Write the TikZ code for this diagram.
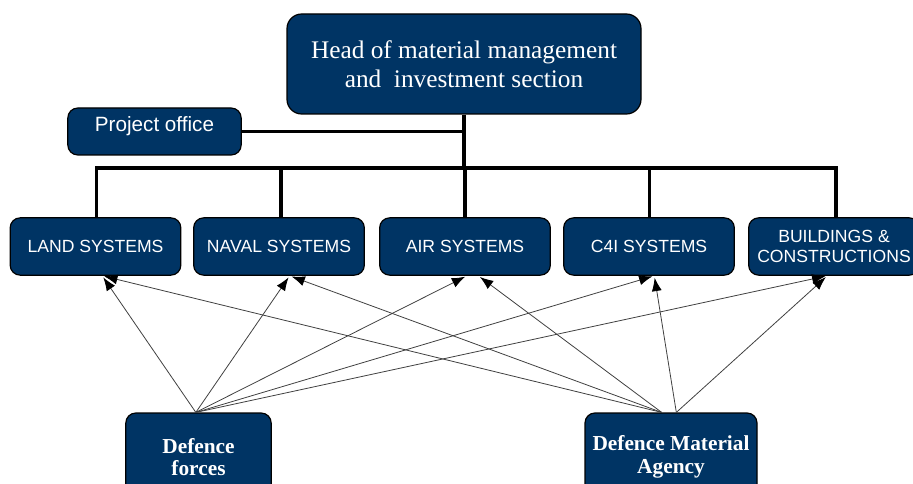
\documentclass[tikz,border=0pt]{standalone}
\usepackage{fontspec}
\setmainfont{Liberation Serif}
\setsansfont{Liberation Sans}
\usetikzlibrary{arrows.meta}
\usetikzlibrary{calc}
\definecolor{navy}{RGB}{0,52,100}

\begin{document}
\begin{tikzpicture}[x=0.75pt,y=0.75pt,yscale=-1,xscale=1,
  unit/.style={draw=black, line width=0.9pt, fill=navy, rounded corners=7.5pt, text=white, align=center, inner sep=0pt},
  branch/.style={unit, minimum width=128pt, minimum height=43pt, font={\sffamily\fontsize{13.2}{15}\selectfont}},
  source/.style={unit, minimum height=66pt, font={\bfseries\fontsize{16}{17}\selectfont}},
  tree/.style={line width=2.4pt, black},
  feed/.style={draw=black!75, line width=0.6pt, -{Latex[length=10pt,width=7.5pt,black]}, shorten >=1.5pt}]
\clip (0,0) rectangle (913,484);

% Head
\node[unit, rounded corners=11pt, minimum width=265.5pt, minimum height=75pt, font={\fontsize{19}{21.75}\selectfont}] (head) at (464,64) {Head of material management\\and\ \ investment section};
% Project office
\node[unit, minimum width=130pt, minimum height=35.25pt, text height=11.5pt, text depth=11.5pt, font={\sffamily\fontsize{15.5}{18}\selectfont}] (office) at (154.5,131.5) {Project office};

% Branches
\node[branch] (land) at (95.5,246.5) {LAND SYSTEMS};
\node[branch] (naval) at (279,246.5) {NAVAL SYSTEMS};
\node[branch] (air) at (465,246.5) {AIR SYSTEMS};
\node[branch] (c4i) at (649,246.5) {C4I SYSTEMS};
\node[branch] (build) at (834,246.5) {BUILDINGS \&\\CONSTRUCTIONS};

% Sources
\node[source, minimum width=109pt] (forces) at (198.5,457) {Defence\\forces};
\node[source, minimum width=129pt] (dma) at (671,457) {Defence Material\\Agency};

% Tree lines
\coordinate (hub) at (464,168);
\draw[tree] (head.south) -- (hub);
\draw[tree] (office.east) -- (office.east -| head.south);
\draw[tree] ([xshift=1pt]land.north) |- (hub) -| ([xshift=1.5pt]build.north);
\foreach \n/\s in {naval/1.5pt,air/0pt,c4i/0.5pt}
  \draw[tree] ([xshift=\s]\n.north) -- ([xshift=\s]\n.north |- hub);

% Feeds from Defence forces
\coordinate (fo) at ([xshift=-2pt]forces.north);
\draw[feed] (fo) -- ([xshift=5pt]land.south);
\draw[feed] (fo) -- ([xshift=8pt]naval.south);
\draw[feed] (fo) -- ([xshift=1.5pt]air.south);
\draw[feed] (fo) -- ([xshift=4pt]c4i.south);
\draw[feed] (fo) -- ([xshift=-5pt]build.south);

% Feeds from Defence Material Agency
\coordinate (da) at ([xshift=-7pt]dma.north);
\coordinate (db) at ([xshift=4pt]dma.north);
\draw[feed] (da) -- ([xshift=5pt]land.south);
\draw[feed] (da) -- ([xshift=8pt]naval.south);
\draw[feed] (da) -- ([xshift=10pt]air.south);
\draw[feed] (db) -- ([xshift=4pt]c4i.south);
\draw[feed] (db) -- ([xshift=-5pt]build.south);

\end{tikzpicture}
\end{document}
